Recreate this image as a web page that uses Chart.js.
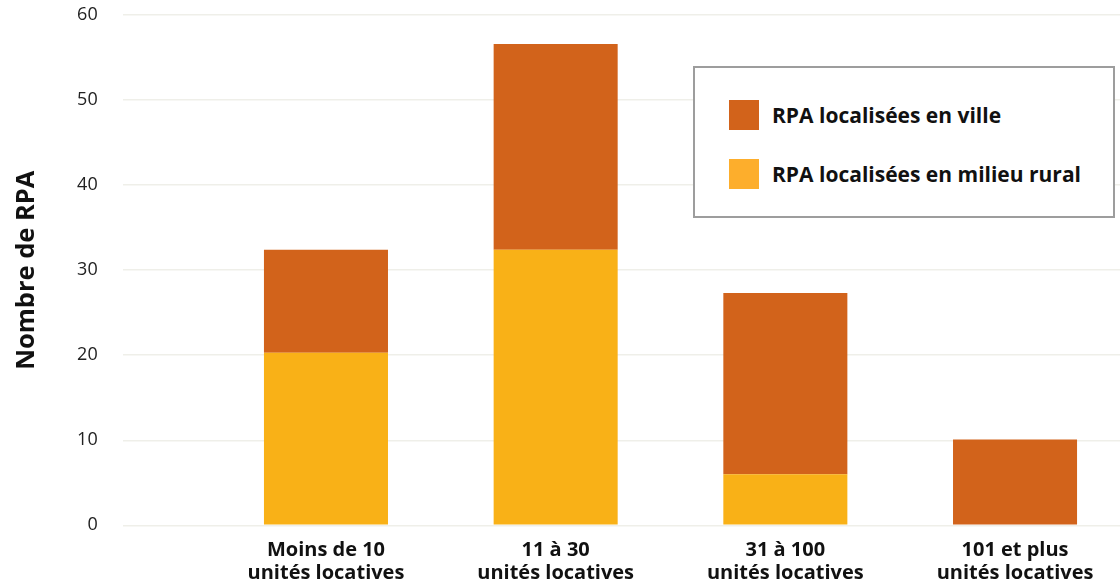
<!DOCTYPE html>
<html>
<head>
<meta charset="utf-8">
<script src="https://cdn.jsdelivr.net/npm/chart.js@4.4.1/dist/chart.umd.min.js"></script>
<style>
  html, body { margin: 0; padding: 0; background: #fff; overflow: hidden; }
  #wrap { position: relative; width: 1120px; height: 583px; }
  #legende {
    position: absolute; left: 693px; top: 66px; width: 418px; height: 148px;
    border: 2px solid #9d9d9d; background: #fff;
    font-family: "Open Sans", sans-serif; font-weight: bold; font-size: 21px; color: #111;
  }
  .legend-item { position: absolute; left: 34px; height: 30px; line-height: 30px; white-space: nowrap; }
  .legend-color-box { display: inline-block; width: 30px; height: 30px; vertical-align: top; margin-right: 13px; }
</style>
</head>
<body>
<div id="wrap">
  <canvas id="graphe" width="1120" height="583"></canvas>
  <div id="legende"></div>
</div>
<script>
var categories = [['Moins de 10', 'unités locatives'], ['11 à 30', 'unités locatives'], ['31 à 100', 'unités locatives'], ['101 et plus', 'unités locatives']];
var rpa_rural = [20.3, 32.4, 6.0, 0];
var rpa_ville = [12.1, 24.2, 21.3, 10.1];
var ticks_y = [0, 10, 20, 30, 40, 50, 60];

var couleur_ville = '#d2631b';
var couleur_rural = '#f9b117';
var couleur_rural_legende = '#fdae2c';

Chart.defaults.font.family = '"Open Sans", sans-serif';

function points(valeurs) {
  return valeurs.map(function (v, i) { return { x: i + 1, y: v }; });
}

var ctx = document.getElementById('graphe').getContext('2d');
var graphe = new Chart(ctx, {
  type: 'bar',
  data: {
    datasets: [{
      label: 'RPA localisées en milieu rural',
      data: points(rpa_rural),
      backgroundColor: couleur_rural,
      legendColor: couleur_rural_legende,
      categoryPercentage: 1,
      barPercentage: 0.54
    }, {
      label: 'RPA localisées en ville',
      data: points(rpa_ville),
      backgroundColor: couleur_ville,
      legendColor: couleur_ville,
      categoryPercentage: 1,
      barPercentage: 0.54
    }]
  },
  options: {
    responsive: false,
    animation: false,
    layout: { padding: { left: 11, right: 0, top: 15, bottom: 0 } },
    plugins: {
      legend: { display: false },
      tooltip: { enabled: false }
    },
    scales: {
      x: {
        type: 'linear',
        stacked: true,
        offset: false,
        min: 0.115,
        max: 4.457,
        grid: { display: false },
        border: { display: false },
        afterBuildTicks: function (s) {
          s.ticks = categories.map(function (c, i) { return { value: i + 1 }; });
        },
        ticks: {
          autoSkip: false,
          maxRotation: 0,
          padding: 5,
          color: '#111',
          font: { size: 20, weight: 'bold', lineHeight: 1.17 },
          callback: function (v) { return categories[v - 1] || ''; }
        },
        afterFit: function (s) {
          s.height = 57.7;
          s.paddingLeft = 0;
          s.paddingRight = 0;
        }
      },
      y: {
        stacked: true,
        min: 0,
        max: 60,
        afterBuildTicks: function (s) {
          s.ticks = ticks_y.map(function (v) { return { value: v }; });
        },
        grid: { color: '#efefe9', lineWidth: 1.5, drawTicks: false },
        border: { display: false },
        ticks: { padding: 25, color: '#222', font: { size: 18 } },
        title: {
          display: true,
          text: 'Nombre de RPA',
          color: '#111',
          font: { size: 25.5, weight: 'bold' },
          padding: { top: 0, bottom: 0 }
        },
        afterFit: function (s) {
          s.width = 111.7;
          s.paddingTop = 0;
          s.paddingBottom = 0;
        }
      }
    }
  }
});

// Leyenda manual (ville en premier)
function generateLegend(chart) {
  var text = [];
  var ds = chart.data.datasets.slice().reverse();
  ds.forEach(function (d, i) {
    text.push('<div class="legend-item" style="top:' + (32 + i * 59) + 'px"><span class="legend-color-box" style="background-color:' + d.legendColor + '"></span>' + d.label + '</div>');
  });
  return text.join('');
}
document.getElementById('legende').innerHTML = generateLegend(graphe);
</script>
</body>
</html>
